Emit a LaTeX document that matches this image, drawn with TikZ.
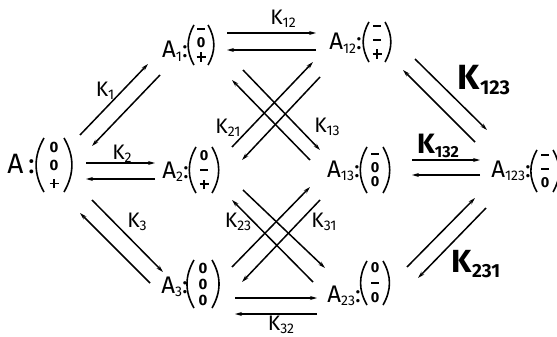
\documentclass[tikz,border=0pt]{standalone}
\usepackage{fontspec}
\setmainfont{Fira Sans}
\usetikzlibrary{arrows.meta}
\newcommand\sbs[1]{\raisebox{-0.3ex}{\fontsize{14}{14}\selectfont #1}}
\newcommand\bsbs[2]{\raisebox{-0.25ex}{\fontsize{#1}{#1}\selectfont #2}}
\newcommand\mn{\raisebox{3.6pt}{\rule{7.5pt}{1.8pt}}}
\newcommand\pl{\makebox[9pt]{\rule[3.6pt]{9pt}{1.8pt}\hspace{-9pt}\hspace{3.6pt}\rule[-0.3pt]{1.8pt}{9.6pt}\hspace{3.6pt}}}
\newcommand\prn[3]{%
  \draw[paren] ([shift={(-#2pt,#3pt)}]#1.center) to[bend right=30] ([shift={(-#2pt,-#3pt)}]#1.center);
  \draw[paren] ([shift={(#2pt,#3pt)}]#1.center) to[bend left=30] ([shift={(#2pt,-#3pt)}]#1.center);}
\newcommand\conn[3]{%
  \coordinate (#1s) at (#2); \coordinate (#1e) at (#3);
  \draw[arr] (#1s) -- (#1e);}
\begin{document}
\begin{tikzpicture}[x=1pt,y=-1pt,
  lab/.style={inner sep=0pt, font=\fontsize{24}{24}\selectfont, anchor=base east},
  vecn/.style={inner sep=0pt, align=center, font=\bfseries\fontsize{14.5}{14}\selectfont},
  paren/.style={line width=1.6pt},
  arr/.style={line width=1.5pt, -{Stealth[length=7pt,width=4pt]}},
  klab/.style={inner sep=0pt, font=\fontsize{21}{21}\selectfont},
]
\useasboundingbox (0,0) rectangle (557,337);

% states: vectors
\node[vecn, font=\bfseries\fontsize{15}{18}\selectfont] (A) at (54,165) {0\\0\\\pl};
\node[vecn] (A1) at (201,45) {\mn\\0\\\pl};
\node[vecn] (A12) at (377,42) {\mn\\\mn\\\pl};
\node[vecn] (A2) at (204,170) {0\\\mn\\\pl};
\node[vecn] (A13) at (375,170) {\mn\\0\\0};
\node[vecn] (A123) at (545,171) {\mn\\\mn\\0};
\node[vecn, font=\bfseries\fontsize{15}{16}\selectfont] (A3) at (203,284) {0\\0\\0};
\node[vecn, font=\bfseries\fontsize{14.5}{15}\selectfont] (A23) at (375,283) {0\\\mn\\0};
\prn{A}{10}{27}
\prn{A1}{7}{20}
\prn{A12}{8}{20}
\prn{A2}{8}{23}
\prn{A13}{8}{23}
\prn{A123}{8}{21}
\prn{A3}{9}{24}
\prn{A23}{8}{22}

% state labels
\node[lab, font=\fontsize{28}{28}\selectfont] (Al) at (35,173) {A\,:};
\node[lab] (A1l) at (188,58) {A\sbs{1}:};
\node[lab] (A12l) at (362,50) {A\sbs{12}:};
\node[lab] (A2l) at (189,178) {A\sbs{2}:};
\node[lab] (A13l) at (360,177) {A\sbs{13}:};
\node[lab] (A123l) at (531,177) {A\sbs{123}:};
\node[lab] (A3l) at (188,293) {A\sbs{3}:};
\node[lab] (A23l) at (361,302) {A\sbs{23}:};

% connectors
\conn{c1}{80,135}{148,64}
\conn{c2}{160,75}{92,146}
\conn{c3}{86,163}{155,163}
\conn{c4}{155,179}{86,179}
\conn{c5}{92,200}{163,272}
\conn{c6}{150,283}{80,213}
\conn{c7}{227,33}{316,33}
\conn{c8}{316,50}{227,50}
\conn{c9}{415,59}{487,130}
\conn{c10}{475,142}{403,70}
\conn{c11}{412,160}{480,160}
\conn{c12}{480,175}{412,175}
\conn{c13}{407,267}{475,198}
\conn{c14}{486,208}{418,278}
\conn{c15}{235,298}{317,298}
\conn{c16}{317,314}{235,314}
\conn{c17}{232,147}{313,62}
\conn{c18}{320,77}{242,160}
\conn{c19}{310,160}{232,80}
\conn{c20}{243,70}{320,150}
\conn{c21}{232,267}{310,187}
\conn{c22}{320,200}{242,282}
\conn{c23}{313,282}{232,200}
\conn{c24}{243,190}{325,268}

% rate labels
\node[klab] (k1) at (105,91) {K\sbs{1}};
\node[klab] (k2) at (122,154) {K\sbs{2}};
\node[klab] (k3) at (137,222) {K\sbs{3}};
\node[klab] (k12) at (283,19) {K\sbs{12}};
\node[klab] (k21) at (228,128) {K\sbs{21}};
\node[klab] (k13) at (327,127) {K\sbs{13}};
\node[klab] (k23) at (238,222) {K\sbs{23}};
\node[klab] (k31) at (324,222) {K\sbs{31}};
\node[klab] (k32) at (281,325) {K\sbs{32}};
\node[inner sep=0pt, font=\bfseries\fontsize{35}{35}\selectfont] (k123) at (484,80) {K\bsbs{20}{123}};
\node[inner sep=0pt, font=\bfseries\fontsize{28}{28}\selectfont] (k132) at (438,146) {K\bsbs{16}{132}};
\node[inner sep=0pt, font=\bfseries\fontsize{32}{32}\selectfont] (k231) at (476,264) {K\bsbs{19}{231}};
\end{tikzpicture}
\end{document}
